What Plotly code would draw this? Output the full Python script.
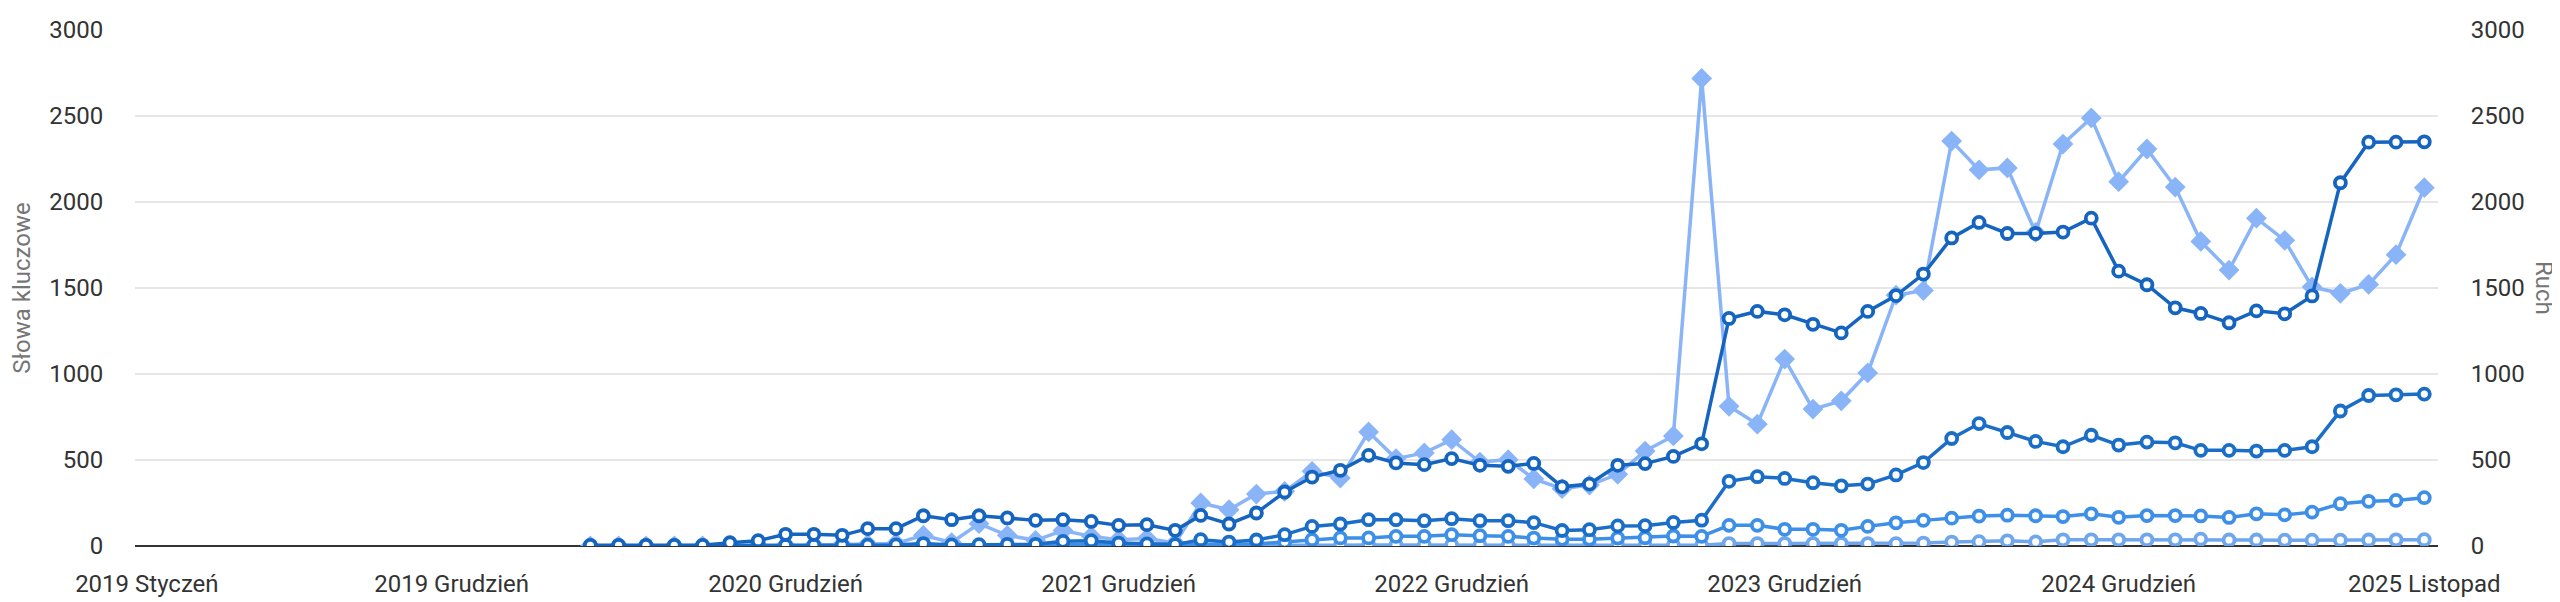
import plotly.graph_objects as go
import pandas as pd

# Months covered by the data (May 2020 .. Nov 2025)
months = pd.date_range("2020-05-01", "2025-11-01", freq="MS")

# Keyword series (left axis "Słowa kluczowe")
kw_a = [4, 4, 4, 4, 4, 19, 31, 68, 68, 62, 101, 101, 176, 153, 176, 163, 149,
        153, 143, 120, 124, 91, 178, 128, 192, 314, 401, 440, 527, 483, 473, 508, 469, 463,
        480, 344, 360, 469, 479, 521, 594, 1323, 1364, 1344, 1289, 1239, 1364, 1456, 1581,
        1791, 1881, 1817, 1817, 1825, 1906, 1598, 1519, 1385, 1352, 1298, 1367, 1350, 1454,
        2112, 2348, 2348, 2350]
kw_b = [0, 0, 0, 0, 0, 3, 3, 4, 5, 5, 5, 6, 14, 6, 8, 10, 10,
        27, 31, 17, 12, 8, 37, 23, 35, 66, 114, 128, 153, 153, 147, 159, 147, 147,
        136, 90, 95, 117, 118, 137, 150, 376, 403, 393, 368, 350, 360, 413, 485,
        625, 712, 660, 608, 577, 644, 587, 604, 600, 556, 556, 552, 556, 577,
        785, 875, 879, 883]
kw_c = [0, 0, 0, 0, 0, 1, 1, 2, 2, 2, 2, 3, 3, 3, 3, 4, 4,
        8, 8, 8, 8, 6, 10, 10, 12, 23, 37, 47, 47, 56, 56, 66, 60, 56,
        46, 39, 39, 46, 48, 58, 56, 120, 120, 97, 97, 91, 114, 135, 149,
        162, 174, 179, 176, 171, 187, 167, 177, 177, 175, 166, 187, 181, 197,
        246, 260, 265, 281]
kw_d = [0, 0, 0, 0, 0, 0, 0, 0, 0, 0, 0, 0, 0, 0, 0, 0, 0,
        1, 1, 1, 1, 1, 2, 2, 2, 3, 4, 5, 6, 6, 6, 6, 5, 5,
        4, 4, 4, 4, 4, 4, 4, 14, 14, 14, 14, 14, 14, 14, 17,
        23, 25, 30, 24, 36, 36, 36, 36, 36, 40, 35, 35, 34, 34,
        34, 35, 36, 37]
# Traffic series (right axis "Ruch")
traffic = [0, 0, 0, 0, 0, 2, 3, 5, 5, 8, 10, 15, 62, 20, 130, 62, 33,
           90, 56, 37, 43, 17, 250, 211, 302, 318, 434, 395, 663, 508, 541, 618, 488, 502,
           390, 333, 354, 417, 552, 640, 2718, 812, 708, 1087, 796, 844, 1006, 1458, 1485,
           2354, 2187, 2198, 1823, 2337, 2489, 2118, 2308, 2087, 1771, 1604, 1906, 1777, 1506,
           1469, 1521, 1694, 2083]

tick_dates = ["2019-01-01", "2019-12-01", "2020-12-01", "2021-12-01",
              "2022-12-01", "2023-12-01", "2024-12-01", "2025-11-01"]
tick_labels = ["2019 Styczeń", "2019 Grudzień", "2020 Grudzień", "2021 Grudzień",
               "2022 Grudzień", "2023 Grudzień", "2024 Grudzień", "2025 Listopad"]
y_ticks = [0, 500, 1000, 1500, 2000, 2500, 3000]

FONT = "Roboto"
TICK_FONT = dict(family=FONT, size=24, color="#333333")
TITLE_FONT = dict(family=FONT, size=24, color="#757575")
fig = go.Figure()

# traffic on y (drawn first, behind)
fig.add_trace(go.Scatter(
    x=months, y=traffic, mode="lines+markers", name="Ruch", yaxis="y",
    line=dict(color="#8ab4f8", width=3.5),
    marker=dict(symbol="diamond", size=16, color="#8ab4f8", line=dict(width=0)),
))

series = [(kw_d, "#6fa6ec"), (kw_c, "#3d8fe8"), (kw_b, "#1b6ec8"), (kw_a, "#1565c0")]
for vals, col in series:
    fig.add_trace(go.Scatter(
        x=months, y=vals, mode="lines+markers", yaxis="y2",
        line=dict(color=col, width=3.5),
        marker=dict(symbol="circle", size=11, color="white", line=dict(color=col, width=3.8)),
    ))

fig.update_layout(
    width=2560, height=602,
    margin=dict(l=127, r=130, t=22, b=64, autoexpand=False),
    paper_bgcolor="white", plot_bgcolor="white",
    showlegend=False,
    font=dict(family=FONT, size=24, color="#333333"),
    xaxis=dict(
        type="date", range=["2018-12-19", "2025-11-16"], automargin=False,
        tickvals=tick_dates, ticktext=tick_labels,
        showgrid=False, zeroline=False, showline=False,
        ticks="outside", ticklen=16, tickcolor="rgba(0,0,0,0)",
        tickfont=TICK_FONT,
    ),
    yaxis=dict(
        side="right", range=[0, 3000], tickvals=y_ticks, automargin=False,
        showgrid=True, gridcolor="#e6e6e6", gridwidth=2,
        zeroline=True, zerolinecolor="#333333", zerolinewidth=2,
        ticks="outside", ticklen=27, tickcolor="rgba(0,0,0,0)",
        tickfont=TICK_FONT,
    ),
    yaxis2=dict(
        side="left", overlaying="y", range=[0, 3000], tickvals=y_ticks, automargin=False,
        showgrid=False, zeroline=False,
        ticks="outside", ticklen=26, tickcolor="rgba(0,0,0,0)",
        tickfont=TICK_FONT,
        title=dict(text="Słowa kluczowe", font=TITLE_FONT, standoff=14),
    ),
    annotations=[dict(
        text="Ruch", xref="paper", yref="paper", x=1.0, y=0.5,
        xanchor="center", yanchor="middle", xshift=106, textangle=90, showarrow=False,
        font=TITLE_FONT,
    )],
)

fig.write_html("out.html")
